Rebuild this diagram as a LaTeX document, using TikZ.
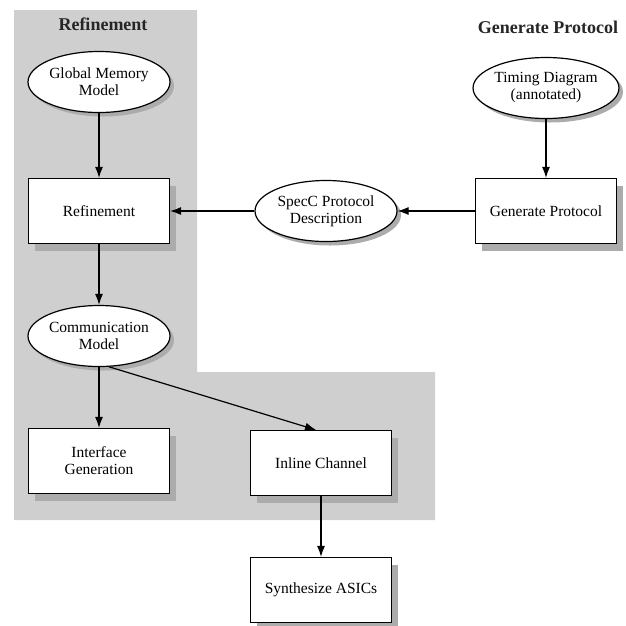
\documentclass[tikz,border=0pt]{standalone}
\usepackage{fontspec}
\setmainfont{Liberation Serif}
\usetikzlibrary{shapes.geometric,shadows,arrows.meta}
\begin{document}
\begin{tikzpicture}[x=1pt,y=-1pt,
  model/.style={ellipse,draw,line width=1.2pt,fill=white,minimum width=142pt,minimum height=61pt,
    inner sep=0pt,align=center,font=\fontsize{15.5}{17}\selectfont,
    drop shadow={shadow xshift=4pt,shadow yshift=-4pt,fill=gray!65,opacity=1}},
  task/.style={rectangle,draw,line width=1.2pt,fill=white,minimum width=141pt,minimum height=65pt,
    inner sep=0pt,align=center,font=\fontsize{15.5}{17}\selectfont,
    drop shadow={shadow xshift=6pt,shadow yshift=-7pt,fill=gray!65,opacity=1}},
  title/.style={font=\fontsize{18}{20}\selectfont\bfseries,text=black!85},
  flow/.style={-{Latex[length=11pt,width=8pt]},line width=1.2pt}]
\useasboundingbox (0,0) rectangle (626,625);
% refinement area
\fill[gray!38] (14,10) -- (197,10) -- (197,372) -- (435,372) -- (435,520) -- (14,520) -- cycle;
\node[title] (reftitle) at (103,24) {Refinement};
\node[title] (gentitle) at (548,27) {Generate Protocol};
% nodes
\node[model] (gmm) at (99,82) {Global Memory\\Model};
\node[task] (ref) at (99,211) {Refinement};
\node[model] (comm) at (99,336) {Communication\\Model};
\node[task] (iface) at (99,461) {Interface\\Generation};
\node[task] (inline) at (321,463) {Inline Channel};
\node[task] (synth) at (321,590) {Synthesize ASICs};
\node[model] (specc) at (326,211) {SpecC Protocol\\Description};
\node[model] (timing) at (546,88) {Timing Diagram\\(annotated)};
\node[task] (gen) at (546,211) {Generate Protocol};
% connectors
\draw[flow] (gmm) -- (ref);
\draw[flow] (ref) -- (comm);
\draw[flow] (comm) -- (iface);
\draw[flow] (comm.-72) -- ([xshift=-5pt]inline.north);
\draw[flow] (inline) -- (synth);
\draw[flow] (timing) -- (gen);
\draw[flow] (gen) -- (specc);
\draw[flow] (specc) -- (ref);
\end{tikzpicture}
\end{document}
